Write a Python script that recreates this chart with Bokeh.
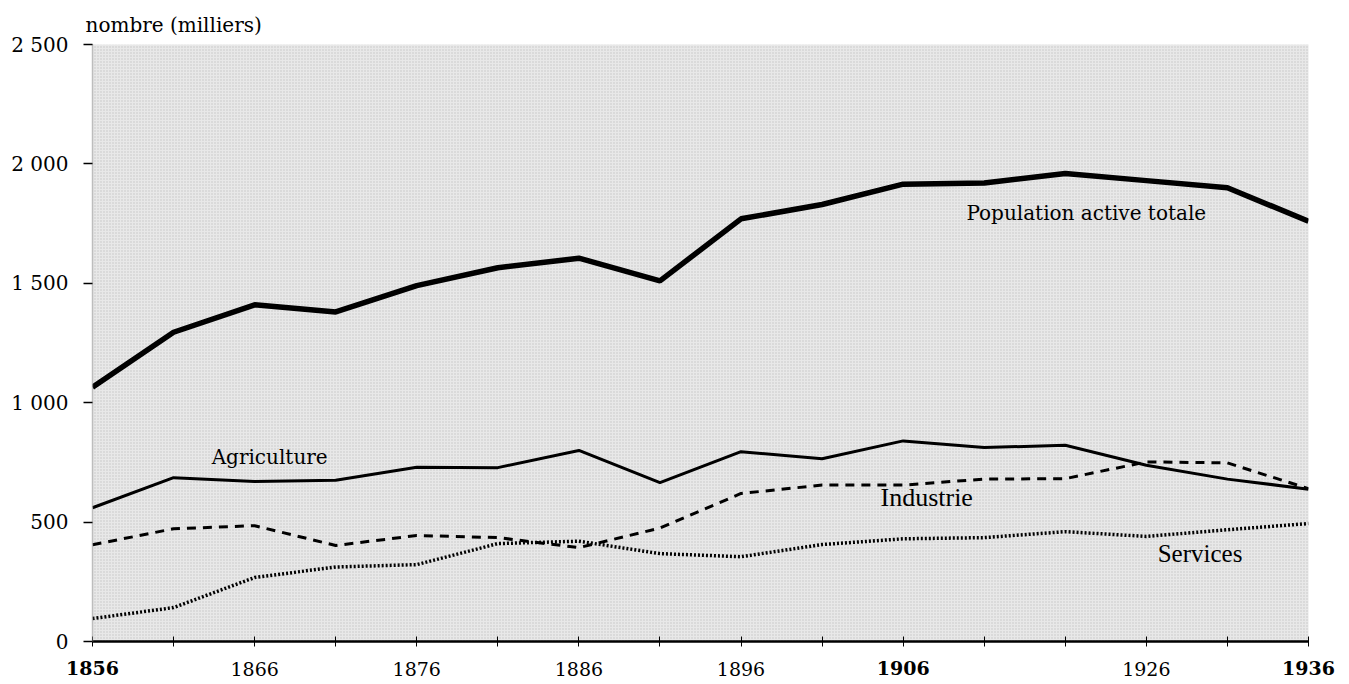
from bokeh.plotting import figure
from bokeh.models import Range1d, Label, FixedTicker, LinearAxis, BoxAnnotation
from bokeh.embed import file_html
from bokeh.resources import INLINE

# census years (equally spaced on the chart)
years = [1856, 1861, 1866, 1872, 1876, 1881, 1886, 1891, 1896, 1901, 1906, 1911, 1921, 1926, 1931, 1936]
total = [1065, 1295, 1410, 1380, 1490, 1565, 1605, 1510, 1770, 1830, 1915, 1920, 1960, 1930, 1900, 1760]
agriculture = [560, 686, 670, 675, 730, 728, 800, 665, 795, 765, 840, 812, 822, 738, 680, 638]
industrie = [405, 472, 485, 402, 444, 435, 393, 475, 620, 655, 655, 680, 682, 752, 748, 640]
services = [96, 142, 268, 312, 322, 410, 420, 368, 355, 406, 430, 435, 460, 440, 468, 494]

shown_years = [1856, 1866, 1876, 1886, 1896, 1906, 1926, 1936]
bold_years = [1856, 1906, 1936]
y_ticks = [0, 500, 1000, 1500, 2000, 2500]
y_tick_labels = ["0", "500", "1 000", "1 500", "2 000", "2 500"]

idx = list(range(len(years)))

p = figure(frame_width=1216, frame_height=597,
           x_range=Range1d(0, len(years) - 1), y_range=Range1d(0, 2500),
           output_backend="svg", toolbar_location=None,
           min_border_left=92, min_border_top=44, min_border_right=33, min_border_bottom=0,
           title="nombre (milliers)")

p.title.text_font = "DejaVu Serif"
p.title.text_font_size = "20px"
p.title.text_font_style = "normal"
p.title.text_color = "black"
p.title.align = "left"
p.title.offset = -7
p.title.standoff = 16

p.background_fill_color = "#e8e8e8"
p.border_fill_color = "white"
p.outline_line_color = None
p.xgrid.grid_line_color = None
p.ygrid.grid_line_color = None

# stippled texture of the plotting area
p.add_layout(BoxAnnotation(fill_alpha=0, line_alpha=0, hatch_pattern="dot",
                           hatch_color="#8c8c8c", hatch_alpha=0.4, hatch_scale=3,
                           level="underlay"))

# lines
p.line(idx, total, line_color="black", line_width=5.5)
p.line(idx, agriculture, line_color="black", line_width=3)
p.line(idx, industrie, line_color="black", line_width=3, line_dash="9 7")
p.line(idx, services, line_color="black", line_width=3.5, line_dash="2 2")

# x axis (normal labels)
xa = p.xaxis[0]
xa.ticker = FixedTicker(ticks=idx)
overrides = {}
for i, y in enumerate(years):
    if y in shown_years and y not in bold_years:
        overrides[i] = str(y)
    else:
        overrides[i] = ""
xa.major_label_overrides = overrides
xa.axis_line_color = "black"
xa.axis_line_width = 2.5
xa.major_tick_in = 5
xa.major_tick_out = 5
xa.major_tick_line_color = "black"
xa.major_tick_line_width = 1
xa.minor_tick_line_color = None
xa.major_label_standoff = 15
xa.major_label_text_font = "DejaVu Serif"
xa.major_label_text_font_size = "19px"
xa.major_label_text_color = "black"

# second x axis with the bold labels, pulled up onto the same line
bold_idx = [years.index(y) for y in bold_years]
xb = LinearAxis(ticker=FixedTicker(ticks=bold_idx),
                major_label_overrides={i: str(years[i]) for i in bold_idx})
xb.axis_line_color = None
xb.major_tick_line_color = None
xb.minor_tick_line_color = None
xb.major_tick_in = 0
xb.major_tick_out = 0
xb.major_label_standoff = -18
xb.major_label_text_font = "DejaVu Serif"
xb.major_label_text_font_style = "bold"
xb.major_label_text_font_size = "19px"
xb.major_label_text_color = "black"
p.add_layout(xb, "below")

# y axis
ya = p.yaxis[0]
ya.ticker = FixedTicker(ticks=y_ticks)
ya.major_label_overrides = {t: l for t, l in zip(y_ticks, y_tick_labels)}
ya.axis_line_color = "#8a8a8a"
ya.axis_line_width = 1.5
ya.axis_line_dash = "1 1"
ya.major_tick_in = 0
ya.major_tick_out = 9
ya.major_tick_line_color = "black"
ya.major_tick_line_width = 1.5
ya.minor_tick_line_color = None
ya.major_label_standoff = 15
ya.major_label_text_font = "DejaVu Serif"
ya.major_label_text_font_size = "20px"
ya.major_label_text_color = "black"

# series labels
p.add_layout(Label(x=10.78, y=1795, text="Population active totale", text_align="left",
                   text_baseline="middle", text_font="DejaVu Serif",
                   text_font_size="20px", text_color="black"))
p.add_layout(Label(x=1.47, y=774, text="Agriculture", text_align="left",
                   text_baseline="middle", text_font="DejaVu Serif",
                   text_font_size="20px", text_color="black"))
p.add_layout(Label(x=9.72, y=602, text="Industrie", text_align="left",
                   text_baseline="middle", text_font="Liberation Serif",
                   text_font_size="26px", text_color="black"))
p.add_layout(Label(x=13.14, y=368, text="Services", text_align="left",
                   text_baseline="middle", text_font="Liberation Serif",
                   text_font_size="25px", text_color="black"))

open("out.html", "w").write(file_html(p, INLINE))
